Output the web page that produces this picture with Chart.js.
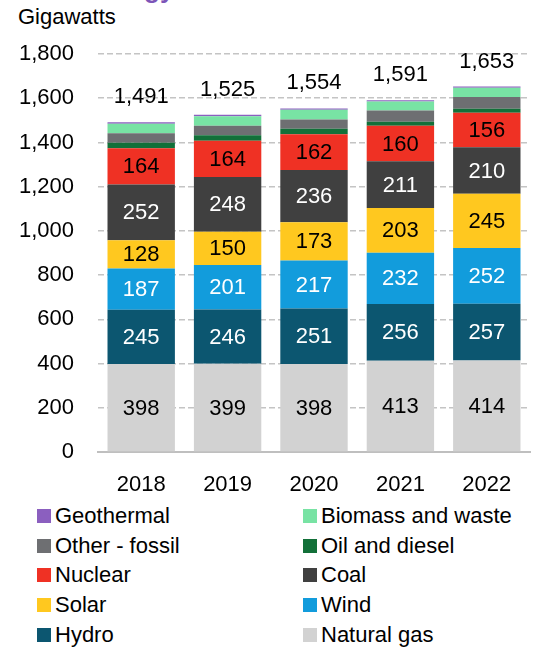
<!DOCTYPE html>
<html>
<head>
<meta charset="utf-8">
<script src="https://cdn.jsdelivr.net/npm/chart.js@4.4.1/dist/chart.umd.min.js"></script>
<style>
    html, body { margin: 0; padding: 0; background: #fff; }
    body {
        width: 545px; height: 649px; position: relative; overflow: hidden;
        font-family: "Liberation Sans", Arial, sans-serif; color: #000;
    }
    #titulo {
        position: absolute; left: 144px; top: -24px;
        font: bold 26px "Liberation Sans", Arial, sans-serif;
        line-height: 26px; color: #7d55b8;
    }
    #unidad { position: absolute; left: 18px; top: 4px; font-size: 22px; line-height: 26px; }
    #contenedor { position: absolute; left: 0; top: 0; width: 545px; height: 500px; }
    #leyenda {
        position: absolute; left: 37px; top: 501px;
        display: grid; grid-template-columns: 266px 230px;
    }
    .item { display: flex; align-items: center; height: 29.75px; font-size: 22px; white-space: nowrap; }
    .cuadro { width: 14px; height: 14px; margin-right: 4px; flex: none; }
</style>
</head>
<body>
<div id="titulo">gy</div>
<div id="unidad">Gigawatts</div>
<div id="contenedor"><canvas id="grafico"></canvas></div>
<div id="leyenda"></div>

<script>
// Capacidad instalada por tecnología (GW)
const anios = ['2018', '2019', '2020', '2021', '2022'];
const gasNatural = [398, 399, 398, 413, 414];
const hidro = [245, 246, 251, 256, 257];
const eolica = [187, 201, 217, 232, 252];
const solar = [128, 150, 173, 203, 245];
const carbon = [252, 248, 236, 211, 210];
const nuclear = [164, 164, 162, 160, 156];
const petroleo = [25, 25, 25, 19, 18];
const otroFosil = [43, 43, 42, 50, 53];
const biomasa = [43, 43, 44, 41, 42];
const geotermica = [6, 6, 6, 6, 6];
const ticksY = [0, 200, 400, 600, 800, 1000, 1200, 1400, 1600, 1800];

// de abajo hacia arriba en la pila
const series = [
    { label: 'Natural gas', data: gasNatural, color: '#d2d2d2', texto: '#000' },
    { label: 'Hydro', data: hidro, color: '#0c5670', texto: '#fff' },
    { label: 'Wind', data: eolica, color: '#129cdc', texto: '#fff' },
    { label: 'Solar', data: solar, color: '#ffc81f', texto: '#000' },
    { label: 'Coal', data: carbon, color: '#404040', texto: '#fff' },
    { label: 'Nuclear', data: nuclear, color: '#ef3124', texto: '#000' },
    { label: 'Oil and diesel', data: petroleo, color: '#127039', texto: null },
    { label: 'Other - fossil', data: otroFosil, color: '#6e6f72', texto: null },
    { label: 'Biomass and waste', data: biomasa, color: '#78e3a4', texto: null },
    { label: 'Geothermal', data: geotermica, color: '#8b5fbf', texto: null },
];

const totales = anios.map((_, j) => series.reduce((s, d) => s + d.data[j], 0));
const fuente = '22px "Liberation Sans", Arial, sans-serif';
const fmt = (v) => v.toLocaleString('en-US');

const pluginEtiquetas = {
    id: 'etiquetas',
    afterDatasetsDraw(chart) {
        const ctx = chart.ctx;
        ctx.save();
        ctx.font = fuente;
        ctx.textAlign = 'center';
        ctx.textBaseline = 'middle';
        chart.data.datasets.forEach((ds, i) => {
            if (!ds.colorTexto) return;
            ctx.fillStyle = ds.colorTexto;
            chart.getDatasetMeta(i).data.forEach((barra, j) => {
                ctx.fillText(fmt(ds.data[j]), barra.x, (barra.y + barra.base) / 2 + 1);
            });
        });
        // totales encima de cada columna
        const arriba = chart.getDatasetMeta(chart.data.datasets.length - 1);
        ctx.fillStyle = '#000';
        totales.forEach((t, j) => {
            const barra = arriba.data[j];
            ctx.fillText(fmt(t), barra.x, barra.y - 25);
        });
        ctx.restore();
    },
};

new Chart(document.getElementById('grafico').getContext('2d'), {
    type: 'bar',
    data: {
        labels: anios,
        datasets: series.map((s) => ({
            label: s.label,
            data: s.data,
            backgroundColor: s.color,
            colorTexto: s.texto,
            borderWidth: 0,
            barPercentage: 0.78,
            categoryPercentage: 1,
        })),
    },
    options: {
        responsive: true,
        maintainAspectRatio: false,
        animation: false,
        layout: { padding: { top: 54, right: 15, left: 0, bottom: 0 } },
        plugins: { legend: { display: false }, tooltip: { enabled: false } },
        scales: {
            x: {
                stacked: true,
                grid: { display: false, drawTicks: false },
                border: { display: true, color: '#bfbfbf', width: 2 },
                ticks: { color: '#000', font: { size: 22, family: '"Liberation Sans", Arial, sans-serif' }, padding: 20 },
                afterFit: (scale) => { scale.height = 48; },
            },
            y: {
                stacked: true,
                min: 0,
                max: 1800,
                afterBuildTicks: (scale) => { scale.ticks = ticksY.map((v) => ({ value: v })); },
                grid: { color: '#c4c4c4', lineWidth: 1.5, drawTicks: false },
                border: { display: false, dash: [6, 3] },
                ticks: {
                    color: '#000',
                    font: { size: 22, family: '"Liberation Sans", Arial, sans-serif' },
                    padding: 24,
                    callback: (v) => fmt(v),
                },
                afterFit: (scale) => { scale.width = 98; },
            },
        },
    },
    plugins: [pluginEtiquetas],
});

// leyenda en dos columnas, de arriba hacia abajo en la pila
const leyenda = document.getElementById('leyenda');
series.slice().reverse().forEach((s) => {
    const item = document.createElement('div');
    item.className = 'item';
    item.innerHTML = `<span class="cuadro" style="background:${s.color}"></span><span>${s.label}</span>`;
    leyenda.appendChild(item);
});
</script>
</body>
</html>
